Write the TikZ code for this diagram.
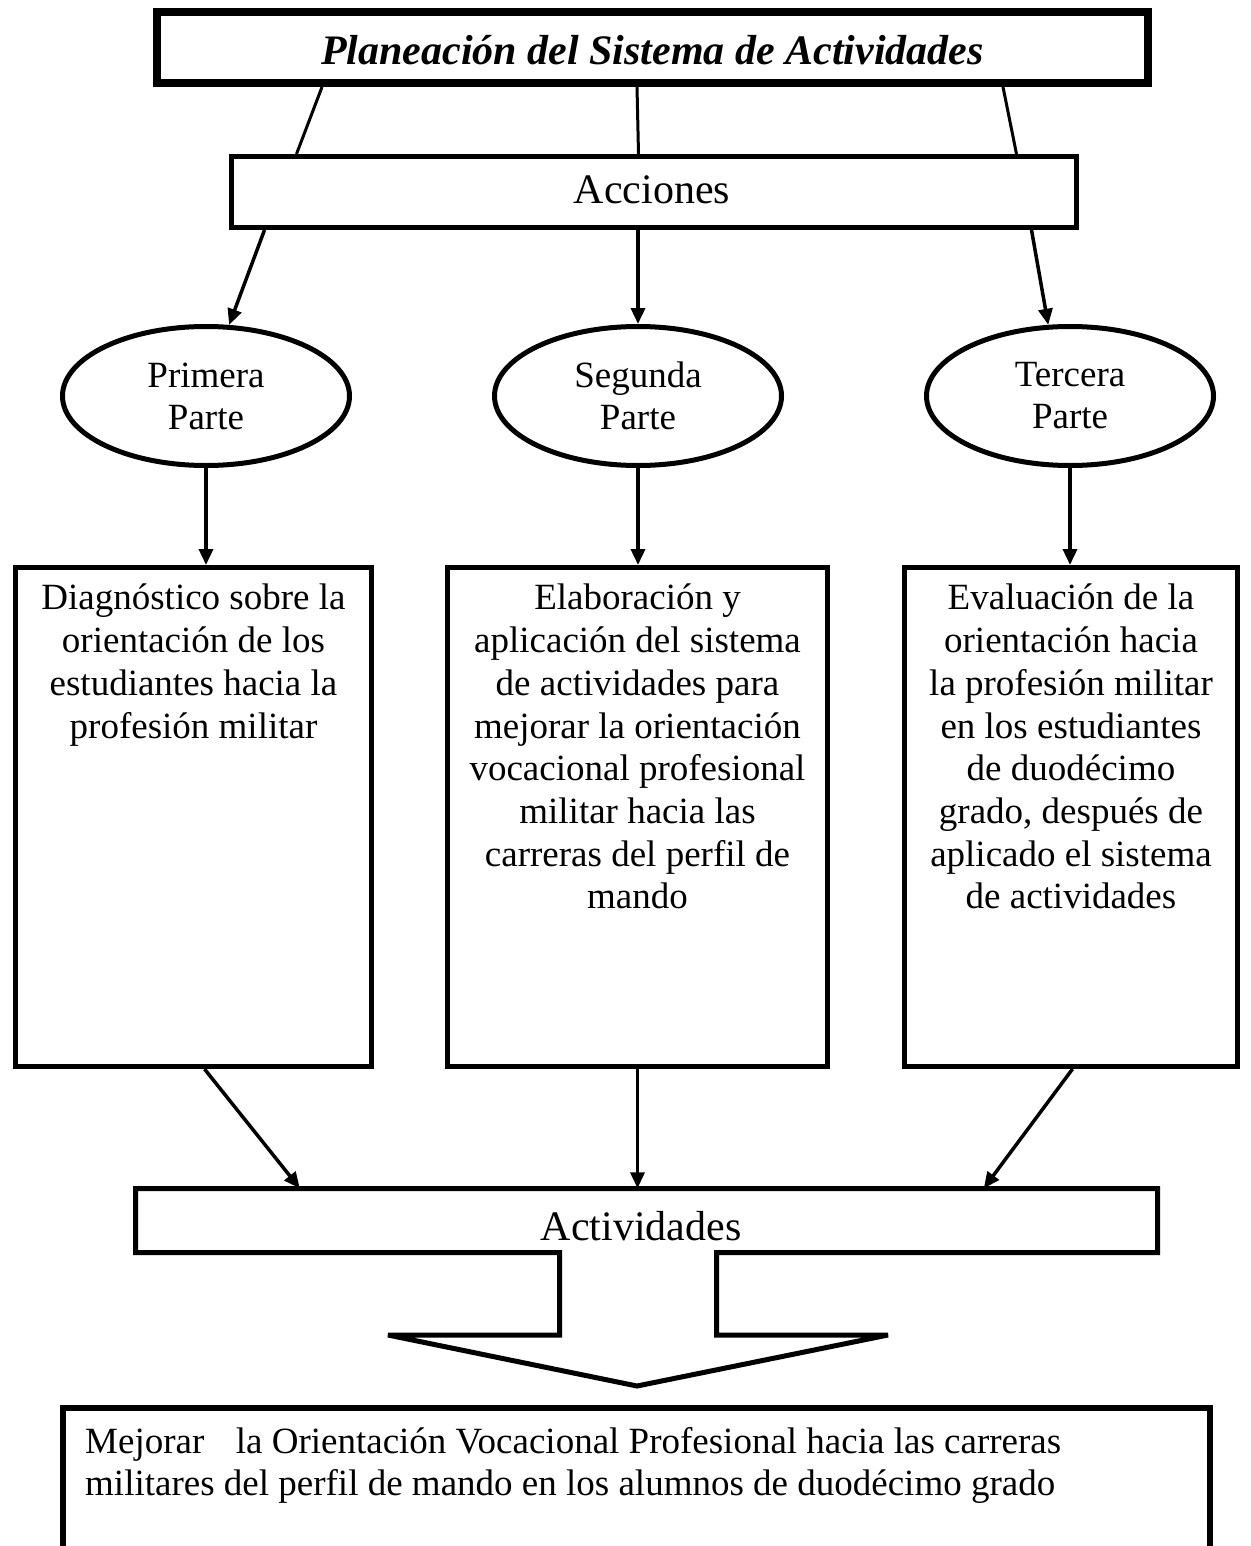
\documentclass[tikz,border=0pt]{standalone}
\usepackage{fontspec}
\setmainfont{Liberation Serif}
\usetikzlibrary{arrows.meta,shapes.geometric}
\begin{document}
\begin{tikzpicture}[x=1pt,y=-1pt,
  bigfont/.style={font=\fontsize{42}{48}\selectfont},
  txt/.style={font=\fontsize{37}{42.7}\selectfont, align=center, inner sep=0pt},
  frame/.style={draw, rectangle, line width=5pt, inner sep=0pt},
  oval/.style={draw, ellipse, line width=5pt, inner sep=0pt, minimum width=287pt, minimum height=139pt,
    font=\fontsize{37}{42}\selectfont, align=center},
  link/.style={line width=3pt},
  arr/.style={line width=3.5pt, -{Triangle[length=16pt,width=14pt]}},
]
\path[use as bounding box, clip] (0,0) rectangle (1250,1546);
\fill[white] (0,0) rectangle (1250,1546);

% top title box
\node[frame, line width=8pt, minimum width=991pt, minimum height=71pt] (top) at (652.5,47.5) {};
\node[bigfont, anchor=base, inner sep=0pt] (title) at (652.5,65) {\bfseries\itshape Planeación del Sistema de Actividades};

% Acciones
\node[frame, minimum width=845pt, minimum height=71pt] (acc) at (654,192) {};
\node[bigfont, anchor=base, inner sep=0pt] (acclab) at (652,204) {Acciones};

\draw[link] ([xshift=169pt]top.south west) -- ([xshift=67.5pt]acc.north west);
\draw[link] ([xshift=484pt]top.south west) -- ([xshift=409.5pt]acc.north west);
\draw[link] ([xshift=850pt]top.south west) -- ([xshift=787.5pt]acc.north west);

% ellipses
\node[oval] (e1) at (206,396) {Primera\\Parte};
\node[oval] (e2) at (638,396) {Segunda\\Parte};
\node[oval] (e3) at (1070,396) {Tercera\\Parte};

\draw[arr] ([xshift=35.5pt]acc.south west) -- (e1.72);
\draw[arr] (acc.south -| e2.north) -- (e2.north);
\draw[arr] ([xshift=802.5pt]acc.south west) -- (e3.107);

% boxes
\node[frame, minimum width=356pt, minimum height=499pt] (b1) at (193.5,817) {};
\node[frame, minimum width=380pt, minimum height=499pt] (b2) at (637.5,817) {};
\node[frame, minimum width=333pt, minimum height=499pt] (b3) at (1071,817) {};

\node[txt, anchor=north] (t1) at (193.5,584) {Diagnóstico sobre la\\orientación de los\\estudiantes hacia la\\profesión militar};
\node[txt, anchor=north] (t2) at (637.5,584) {Elaboración y\\aplicación del sistema\\de actividades para\\mejorar la orientación\\vocacional profesional\\militar hacia las\\carreras del perfil de\\mando};
\node[txt, anchor=north] (t3) at (1071,584) {Evaluación de la\\orientación hacia\\la profesión militar\\en los estudiantes\\de duodécimo\\grado, después de\\aplicado el sistema\\de actividades};

\draw[arr] (e1.south) -- (b1.north -| e1.south);
\draw[arr] (e2.south) -- (b2.north -| e2.south);
\draw[arr] (e3.south) -- (b3.north -| e3.south);

% Actividades box with block arrow
\node[rectangle, inner sep=0pt, minimum width=1022pt, minimum height=64pt] (act) at (646.5,1220.5) {};
\draw[line width=5pt, line join=miter, miter limit=2]
  (135.5,1188.5) -- (1157.5,1188.5) -- (1157.5,1252.5) -- (716.5,1252.5) -- (716.5,1335)
  -- (888,1335) -- (637,1386) -- (388,1335) -- (559.5,1335) -- (559.5,1252.5)
  -- (135.5,1252.5) -- cycle;
\node[bigfont, anchor=base, inner sep=0pt] (actlab) at (641,1240) {Actividades};

\draw[arr] ([xshift=191.5pt]b1.south west) -- ([xshift=164.5pt]act.north west);
\draw[arr] (b2.south) -- (b2.south |- act.north);
\draw[arr] ([xshift=170.5pt]b3.south west) -- ([xshift=848.5pt]act.north west);

% goal box (open at the bottom of the page)
\node[frame, line width=6pt, minimum width=1147pt, minimum height=172pt] (goal) at (636.5,1494) {};
\node[txt, align=left, anchor=north west] (goaltext) at (85,1427) {Mejorar\hspace{0.6em} la Orientación Vocacional Profesional hacia las carreras\\militares del perfil de mando en los alumnos de duodécimo grado};
\end{tikzpicture}
\end{document}
